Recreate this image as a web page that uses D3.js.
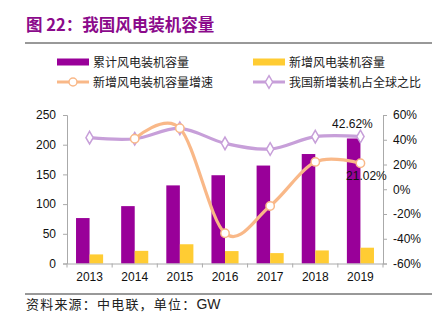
<!DOCTYPE html>
<html>
<head>
<meta charset="utf-8">
<script src="https://cdn.jsdelivr.net/npm/d3@7"></script>
<style>
  body { margin: 0; background: #fff; }
  svg { display: block; }
  .cn { font-family: "Noto Sans CJK SC", sans-serif; }
  .num { font-family: "Liberation Sans", Arial, sans-serif; }
</style>
</head>
<body>
<div id="chart"></div>
<script>
var years = ['2013', '2014', '2015', '2016', '2017', '2018', '2019'];
var cumulative = [76.5, 96.6, 131.5, 148.6, 164.9, 184.3, 210.5];
var added = [15.3, 21.3, 32.4, 20.9, 17.5, 22.0, 26.6];
var addedGrowth = [null, 40.8, 49.3, -35.6, -13.5, 22.1, 21.02];
var globalShare = [41.7, 40.8, 49.2, 37.1, 32.5, 42.5, 42.62];
var leftTicks = [0, 50, 100, 150, 200, 250];
var rightTicks = [-60, -40, -20, 0, 20, 40, 60];

var W = 442, H = 327;
var plotL = 67, plotR = 383, plotT = 115, plotB = 263.5;

var svg = d3.select('#chart').append('svg')
  .attr('width', W).attr('height', H);

// title and rules
svg.append('text').attr('class', 'cn')
  .attr('x', 26).attr('y', 31)
  .style('font-size', '16.5px').style('font-weight', 'bold')
  .style('fill', '#8B0A8B')
  .text('图 22：我国风电装机容量');
svg.append('line').attr('x1', 25).attr('x2', 432).attr('y1', 43).attr('y2', 43)
  .style('stroke', '#333').style('stroke-width', 1);
svg.append('line').attr('x1', 25).attr('x2', 432).attr('y1', 294).attr('y2', 294)
  .style('stroke', '#333').style('stroke-width', 1);
var foot = svg.append('text').attr('class', 'cn')
  .attr('x', 26).attr('y', 309)
  .style('font-size', '13px').style('fill', '#222');
foot.append('tspan').style('letter-spacing', '1.2px').text('资料来源：中电联，单位：');
foot.append('tspan').attr('class', 'num').style('font-size', '14px').text('GW');

var x = d3.scaleBand().domain(years).range([plotL, plotR]).paddingInner(0).paddingOuter(0);
var yL = d3.scaleLinear().domain([0, 250]).range([plotB, plotT]);
var yR = d3.scaleLinear().domain([-60, 60]).range([plotB, plotT]);
var bw = x.step() * 0.3;
var cx = function (d) { return x(d) + x.bandwidth() / 2; };

// bars
svg.append('g').selectAll('rect.cum')
  .data(cumulative).enter().append('rect')
  .attr('x', function (d, i) { return cx(years[i]) - bw; })
  .attr('y', function (d) { return yL(d); })
  .attr('width', bw)
  .attr('height', function (d) { return yL(0) - yL(d); })
  .style('fill', '#990099');
svg.append('g').selectAll('rect.add')
  .data(added).enter().append('rect')
  .attr('x', function (d, i) { return cx(years[i]); })
  .attr('y', function (d) { return yL(d); })
  .attr('width', bw)
  .attr('height', function (d) { return yL(0) - yL(d); })
  .style('fill', '#FFCC33');

// axes
var axisColor = '#AAAAAA';
function styleAxis(g) {
  g.select('.domain').style('stroke', axisColor);
  g.selectAll('.tick line').style('stroke', axisColor);
  g.selectAll('.tick text').attr('class', 'num')
    .style('font-size', '12px').style('fill', '#111');
}
svg.append('g').attr('transform', 'translate(' + plotL + ',0)')
  .call(d3.axisLeft(yL).tickValues(leftTicks).tickSize(4).tickSizeOuter(4).tickPadding(7))
  .call(styleAxis);
svg.append('g').attr('transform', 'translate(' + plotR + ',0)')
  .call(d3.axisRight(yR).tickValues(rightTicks).tickSize(4).tickSizeOuter(4).tickPadding(6)
    .tickFormat(function (d) { return d + '%'; }))
  .call(styleAxis);
var xa = svg.append('g').attr('transform', 'translate(0,' + plotB + ')')
  .call(d3.axisBottom(x).tickSize(0).tickSizeOuter(0).tickPadding(9))
  .call(styleAxis);
xa.selectAll('line.edge').data(d3.range(years.length + 1)).enter()
  .append('line').attr('class', 'edge')
  .attr('x1', function (i) { return plotL + i * x.step(); })
  .attr('x2', function (i) { return plotL + i * x.step(); })
  .attr('y1', 0).attr('y2', 4)
  .style('stroke', axisColor);

// lines
var shareData = globalShare.map(function (v, i) { return [cx(years[i]), yR(v)]; });
var growthData = addedGrowth.map(function (v, i) { return v === null ? null : [cx(years[i]), yR(v)]; })
  .filter(function (d) { return d !== null; });
var line = d3.line().curve(d3.curveCardinal.tension(0));

svg.append('path').datum(shareData).attr('d', line)
  .style('fill', 'none').style('stroke', '#C79FD9').style('stroke-width', 3.2);
svg.append('path').datum(growthData).attr('d', line)
  .style('fill', 'none').style('stroke', '#F9B888').style('stroke-width', 3.2);

var diamond = d3.symbol().type(d3.symbolDiamond).size(46);
svg.append('g').selectAll('path')
  .data(shareData).enter().append('path')
  .attr('d', diamond)
  .attr('transform', function (d) { return 'translate(' + d[0] + ',' + d[1] + ')'; })
  .style('fill', '#fff').style('stroke', '#C79FD9').style('stroke-width', 1.5);
svg.append('g').selectAll('circle')
  .data(growthData).enter().append('circle')
  .attr('cx', function (d) { return d[0]; })
  .attr('cy', function (d) { return d[1]; })
  .attr('r', 4.2)
  .style('fill', '#fff').style('stroke', '#F9B888').style('stroke-width', 1.5);

// value labels on 2019
var last = years.length - 1;
svg.append('text').attr('class', 'num')
  .attr('x', cx(years[last]) - 8).attr('y', yR(globalShare[last]) - 9)
  .attr('text-anchor', 'middle').style('font-size', '12px').style('fill', '#111')
  .text(globalShare[last].toFixed(2) + '%');
svg.append('text').attr('class', 'num')
  .attr('x', cx(years[last]) + 6).attr('y', yR(addedGrowth[last]) + 17)
  .attr('text-anchor', 'middle').style('font-size', '12px').style('fill', '#111')
  .text(addedGrowth[last].toFixed(2) + '%');

// legend
var legend = [
  {name: '累计风电装机容量', type: 'bar', color: '#990099', x: 57, y: 62},
  {name: '新增风电装机容量', type: 'bar', color: '#FFCC33', x: 253, y: 62},
  {name: '新增风电装机容量增速', type: 'circle', color: '#F9B888', x: 57, y: 82},
  {name: '我国新增装机占全球之比', type: 'diamond', color: '#C79FD9', x: 253, y: 82}
];
legend.forEach(function (d) {
  var g = svg.append('g').attr('transform', 'translate(' + d.x + ',' + d.y + ')');
  if (d.type === 'bar') {
    g.append('rect').attr('x', 0).attr('y', -3.5).attr('width', 32).attr('height', 7)
      .style('fill', d.color);
  } else {
    g.append('line').attr('x1', 0).attr('x2', 32).attr('y1', 0).attr('y2', 0)
      .style('stroke', d.color).style('stroke-width', 3);
    if (d.type === 'circle') {
      g.append('circle').attr('cx', 16).attr('cy', 0).attr('r', 4)
        .style('fill', '#fff').style('stroke', d.color).style('stroke-width', 1.5);
    } else {
      g.append('path').attr('d', diamond).attr('transform', 'translate(16,0)')
        .style('fill', '#fff').style('stroke', d.color).style('stroke-width', 1.5);
    }
  }
  g.append('text').attr('class', 'cn')
    .attr('x', 36).attr('y', 4.5)
    .style('font-size', '12px').style('fill', '#222')
    .text(d.name);
});
</script>
</body>
</html>
